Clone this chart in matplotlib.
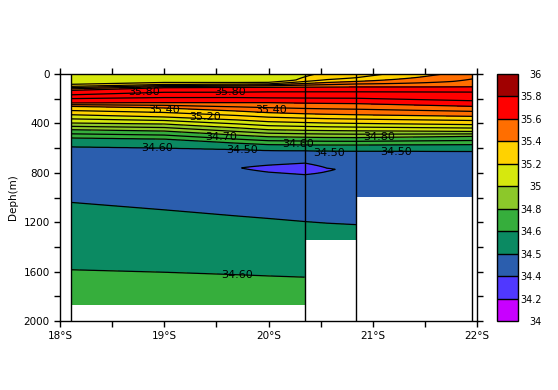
import numpy as np
import matplotlib
matplotlib.use("Agg")
import matplotlib.pyplot as plt
from matplotlib.colors import ListedColormap, BoundaryNorm

# ---------------- data ----------------
# station columns (latitude, deg S)
col_lat = [18.11, 19.0, 19.7, 20.0, 20.35, 20.56, 20.84, 21.955]

# depth knots (m) of each column profile
col_depth = [
    [0, 70, 100, 120, 135, 185, 235, 262, 330, 397, 451, 518, 590, 700, 780, 860, 1040, 1585, 2000],
    [0, 55, 85, 102, 113, 170, 232, 275, 348, 405, 462, 527, 600, 700, 770, 850, 1100, 1605, 2000],
    [0, 58, 82, 98, 111, 170, 232, 300, 372, 436, 495, 560, 612, 730, 760, 795, 1150, 1625, 2000],
    [0, 60, 80, 95, 111, 170, 232, 313, 386, 451, 508, 572, 620, 715, 765, 820, 1170, 1635, 2000],
    [0, 45, 70, 90, 110, 170, 236, 322, 393, 456, 512, 574, 622, 700, 765, 840, 1195, 1645, 2000],
    [0, 38, 65, 88, 110, 170, 238, 326, 397, 458, 514, 575, 624, 725, 775, 830, 1208, 1670, 2000],
    [0, 30, 60, 85, 110, 170, 240, 330, 400, 460, 515, 575, 625, 720, 765, 830, 1220, 1700, 2000],
    [0, 20, 60, 90, 113, 180, 262, 343, 410, 465, 505, 572, 627, 720, 765, 830, 1250, 1750, 2000],
]
# salinity knots matching the depths above
col_sal = [
    [35.10, 35.12, 35.30, 35.50, 35.62, 35.74, 35.60, 35.40, 35.20, 35.00, 34.80, 34.60, 34.50, 34.46, 34.45, 34.46, 34.50, 34.60, 34.65],
    [35.10, 35.12, 35.30, 35.50, 35.62, 35.75, 35.60, 35.40, 35.20, 35.00, 34.80, 34.60, 34.50, 34.46, 34.45, 34.46, 34.50, 34.60, 34.65],
    [35.10, 35.12, 35.30, 35.50, 35.62, 35.75, 35.60, 35.40, 35.20, 35.00, 34.80, 34.60, 34.50, 34.46, 34.41, 34.46, 34.50, 34.60, 34.65],
    [35.12, 35.14, 35.30, 35.50, 35.62, 35.76, 35.60, 35.40, 35.20, 35.00, 34.80, 34.60, 34.50, 34.46, 34.33, 34.46, 34.50, 34.60, 34.65],
    [35.18, 35.22, 35.35, 35.50, 35.62, 35.76, 35.60, 35.40, 35.20, 35.00, 34.80, 34.60, 34.50, 34.46, 34.28, 34.46, 34.50, 34.60, 34.65],
    [35.22, 35.27, 35.38, 35.51, 35.62, 35.76, 35.60, 35.40, 35.20, 35.00, 34.80, 34.60, 34.50, 34.46, 34.38, 34.46, 34.50, 34.60, 34.65],
    [35.25, 35.30, 35.40, 35.52, 35.62, 35.76, 35.60, 35.40, 35.20, 35.00, 34.80, 34.60, 34.50, 34.46, 34.45, 34.46, 34.50, 34.60, 34.65],
    [35.45, 35.48, 35.52, 35.57, 35.62, 35.78, 35.60, 35.40, 35.20, 35.00, 34.80, 34.60, 34.50, 34.46, 34.45, 34.46, 34.50, 34.60, 34.65],
]

# bottom depth segments (data below is missing)
seg_edges = [18.11, 20.35, 20.84, 21.955]
seg_bottom = [1868, 1342, 991]
station_lines = [18.11, 20.35, 20.84, 21.955]

# fill levels / colours
levels = [34, 34.2, 34.4, 34.5, 34.6, 34.8, 35, 35.2, 35.4, 35.6, 35.8, 36]
level_labels = ["34", "34.2", "34.4", "34.5", "34.6", "34.8", "35", "35.2", "35.4", "35.6", "35.8", "36"]
colors = ["#c800ff", "#5038ff", "#2b5eae", "#0b8a62", "#36ae3c", "#8cc82a",
          "#d6e80e", "#ffd200", "#ff6e00", "#ff0000", "#a00000"]
line_levels = [34.4, 34.5, 34.6, 34.7, 34.8, 34.9, 35.0, 35.1, 35.2, 35.3,
               35.4, 35.5, 35.6, 35.7, 35.8]

# contour labels (text, lat, depth)
lab_text = ["35.80", "35.80", "35.40", "35.40", "35.20", "34.70", "34.60",
            "34.50", "34.60", "34.50", "34.80", "34.50", "34.60"]
lab_lat = [18.81, 19.63, 19.0, 20.02, 19.39, 19.55, 18.93,
           19.75, 20.28, 20.58, 21.06, 21.22, 19.70]
lab_dep = [143, 143, 290, 290, 347, 510, 600, 612, 570, 640, 510, 630, 1630]

xticks = [18, 19, 20, 21, 22]
xticklabels = ["18°S", "19°S", "20°S", "21°S", "22°S"]
yticks = [0, 400, 800, 1200, 1600, 2000]

# ---------------- build field ----------------
cl = np.array(col_lat)
CD = np.array(col_depth, float)
CS = np.array(col_sal, float)
lat = np.linspace(seg_edges[0], seg_edges[-1], 900)
dep = np.linspace(0, 2000, 1001)
S = np.empty((dep.size, lat.size))
for j, la in enumerate(lat):
    d_k = np.array([np.interp(la, cl, CD[:, k]) for k in range(CD.shape[1])])
    s_k = np.array([np.interp(la, cl, CS[:, k]) for k in range(CS.shape[1])])
    S[:, j] = np.interp(dep, d_k, s_k)
bottom = np.empty(lat.size)
for i in range(len(seg_bottom)):
    sel = (lat >= seg_edges[i]) & (lat <= seg_edges[i + 1])
    bottom[sel] = seg_bottom[i]
LAT, DEP = np.meshgrid(lat, dep)
Sm = np.ma.masked_where(DEP > bottom[None, :], S)

# ---------------- plot ----------------
fs = 7.5
fig = plt.figure(figsize=(5.58, 3.9), dpi=100)
ax = fig.add_axes([60 / 558, 69 / 390, 417 / 558, 247 / 390])
cmap = ListedColormap(colors)
norm = BoundaryNorm(levels, cmap.N)
cf = ax.contourf(LAT, DEP, Sm, levels=levels, cmap=cmap, norm=norm)
ax.contour(LAT, DEP, Sm, levels=line_levels, colors="black", linewidths=0.9)
for x in station_lines:
    ax.plot([x, x], [0, 2000], color="black", lw=1.0)
for t, x, y in zip(lab_text, lab_lat, lab_dep):
    ax.text(x, y, t, fontsize=fs + 0.5, ha="center", va="center", color="black")

ax.set_xlim(18, 22)
ax.set_ylim(2000, 0)
ax.set_xticks(xticks)
ax.set_xticklabels(xticklabels, fontsize=fs)
ax.set_xticks(np.arange(18.5, 22, 1.0), minor=True)
ax.set_yticks(yticks)
ax.set_yticklabels([str(v) for v in yticks], fontsize=fs)
ax.set_yticks(np.arange(200, 2000, 400), minor=True)
ax.tick_params(which="both", direction="out", length=4, width=1,
               top=True, right=True, labeltop=False, labelright=False)
ax.set_ylabel("Deph(m)", fontsize=fs, labelpad=4)
for sp in ax.spines.values():
    sp.set_linewidth(1.0)

cax = fig.add_axes([497 / 558, 69 / 390, 21 / 558, 247 / 390])
cb = fig.colorbar(cf, cax=cax, ticks=levels, spacing="uniform", drawedges=True)
cb.ax.set_yticklabels(level_labels, fontsize=7)
cb.ax.tick_params(length=0, pad=17)
for lbl in cb.ax.get_yticklabels():
    lbl.set_horizontalalignment("right")
cb.outline.set_linewidth(1.0)
cb.dividers.set_linewidth(1.0)
cb.dividers.set_color("black")

fig.savefig("out.png", dpi=100)
